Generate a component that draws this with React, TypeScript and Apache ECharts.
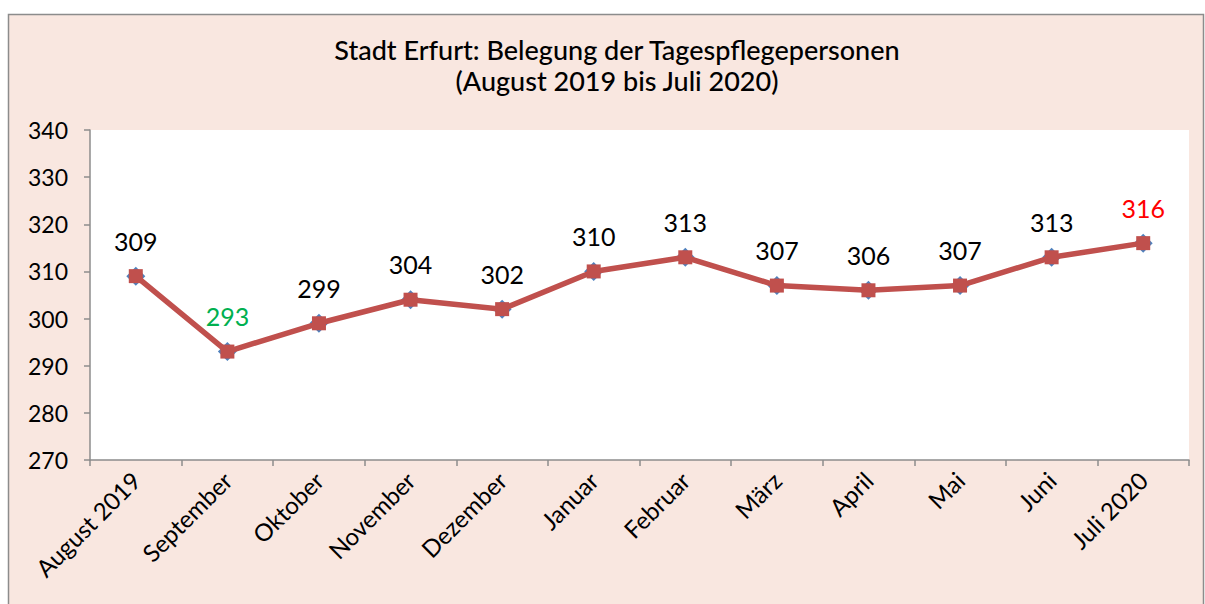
import React, { useEffect, useRef } from "react";
import * as echarts from "echarts";

const categories = ["August 2019", "September", "Oktober", "November", "Dezember", "Januar", "Februar", "März", "April", "Mai", "Juni", "Juli 2020"];
const values = [309, 293, 299, 304, 302, 310, 313, 307, 306, 307, 313, 316];
const labelColors = ["#000", "#00B050", "#000", "#000", "#000", "#000", "#000", "#000", "#000", "#000", "#000", "#FF0000"];
const titleLines = ["Stadt Erfurt: Belegung der Tagespflegepersonen", "(August 2019 bis Juli 2020)"];

const FONT = "Lato, 'Open Sans', sans-serif";

export default function App() {
  const ref = useRef<HTMLDivElement>(null);
  useEffect(() => {
    const chart = echarts.init(ref.current!, null, { renderer: "svg" });
    chart.setOption({
      animation: false,
      backgroundColor: "#ffffff",
      graphic: [
        {
          type: "rect",
          z: -10,
          silent: true,
          shape: { x: 8.5, y: 14.5, width: 1195, height: 600 },
          style: { fill: "#F9E7E0", stroke: "#8C8C8C", lineWidth: 1.5 },
        },
        {
          type: "rect",
          z: -5,
          silent: true,
          shape: { x: 90, y: 130, width: 1099, height: 330 },
          style: { fill: "#ffffff" },
        },
      ],
      title: {
        text: titleLines.join("\n"),
        left: 612,
        top: 29,
        textAlign: "center",
        textStyle: { fontFamily: FONT, fontSize: 27, fontWeight: 500, color: "#000", lineHeight: 31 },
      },
      grid: { left: 90, right: 16, top: 130, bottom: 144 },
      xAxis: {
        type: "category",
        data: categories,
        boundaryGap: true,
        axisLine: { lineStyle: { color: "#8C8C8C", width: 1.5 } },
        axisTick: { show: true, length: 6, inside: false, lineStyle: { color: "#8C8C8C", width: 1.5 } },
        axisLabel: { rotate: 45, margin: 16, fontFamily: FONT, fontSize: 24, color: "#000", interval: 0 },
      },
      yAxis: {
        type: "value",
        min: 270,
        max: 340,
        interval: 10,
        splitLine: { show: false },
        axisLine: { show: true, lineStyle: { color: "#8C8C8C", width: 1.5 } },
        axisTick: { show: true, length: 6, lineStyle: { color: "#8C8C8C", width: 1.5 } },
        axisLabel: { margin: 22, fontFamily: FONT, fontSize: 23, color: "#000" },
      },
      series: [
        {
          type: "line",
          data: values,
          symbol: "diamond",
          symbolSize: 19,
          lineStyle: { width: 0, opacity: 0 },
          itemStyle: { color: "#4F81BD" },
          z: 2,
          silent: true,
        },
        {
          type: "line",
          data: values.map((v, i) => ({
            value: v,
            label: { color: labelColors[i] },
          })),
          symbol: "rect",
          symbolSize: 14,
          lineStyle: { color: "#C0504D", width: 5.5 },
          itemStyle: { color: "#C0504D" },
          z: 3,
          label: {
            show: true,
            position: "top",
            distance: 16,
            fontFamily: FONT,
            fontSize: 25,
          },
        },
      ],
    });
    return () => chart.dispose();
  }, []);
  return <div ref={ref} style={{ position: "fixed", left: 0, top: 0, width: 1205, height: 604 }} />;
}
